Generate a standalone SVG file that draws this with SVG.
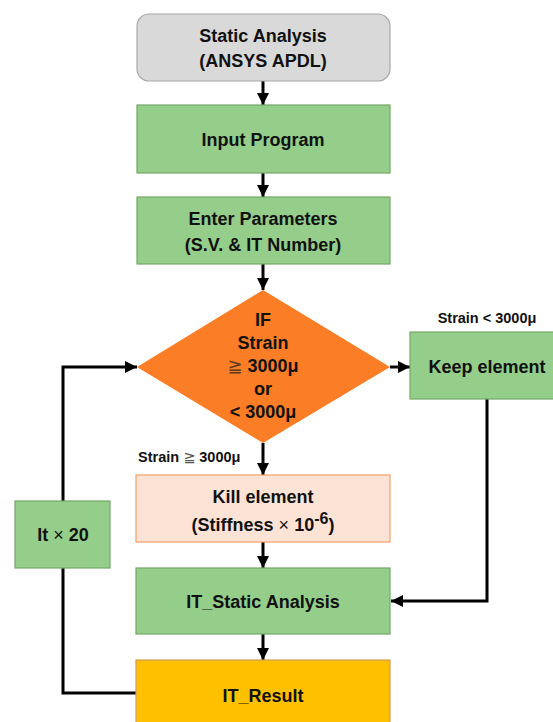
<svg xmlns="http://www.w3.org/2000/svg" width="553" height="722" viewBox="0 0 553 722">
  <style>
    text { font-family: "Liberation Sans", "DejaVu Sans", sans-serif; font-weight: bold; fill: #111; text-anchor: middle; }
    .lbl { font-size: 18px; }
    .small { font-size: 14.5px; }
    .green { fill: #94CE8A; stroke: #74A866; stroke-width: 1.2; }
    .wire { fill: none; stroke: #000; stroke-width: 3; }
  </style>
  <defs>
    <marker id="arrow" markerUnits="userSpaceOnUse" markerWidth="12" markerHeight="12" viewBox="0 0 12 12" refX="12" refY="6" orient="auto">
      <path d="M0,0 L12,6 L0,12 Z" fill="#000"/>
    </marker>
  </defs>

  <!-- connectors -->
  <g id="connectors">
    <path class="wire" d="M263,81 V105" marker-end="url(#arrow)"/>
    <path class="wire" d="M263,173 V197" marker-end="url(#arrow)"/>
    <path class="wire" d="M263,264 V290" marker-end="url(#arrow)"/>
    <path class="wire" d="M390,367 H410" marker-end="url(#arrow)"/>
    <path class="wire" d="M263,443 V475" marker-end="url(#arrow)"/>
    <path class="wire" d="M263,542 V568" marker-end="url(#arrow)"/>
    <path class="wire" d="M263,634 V660" marker-end="url(#arrow)"/>
    <path class="wire" d="M487,399 V601 H391" marker-end="url(#arrow)"/>
    <path class="wire" d="M136,693 H63 V367 H137" marker-end="url(#arrow)"/>
  </g>

  <g id="static-analysis">
    <rect x="137" y="14" width="253" height="67" rx="12" fill="#D9D9D9" stroke="#A8A8A8" stroke-width="1.2"/>
    <text class="lbl" x="263" y="42">Static Analysis</text>
    <text class="lbl" x="263" y="67">(ANSYS APDL)</text>
  </g>

  <g id="input-program">
    <rect class="green" x="137" y="105" width="253" height="68"/>
    <text class="lbl" x="263" y="146">Input Program</text>
  </g>

  <g id="enter-parameters">
    <rect class="green" x="137" y="197" width="253" height="67"/>
    <text class="lbl" x="263" y="225">Enter Parameters</text>
    <text class="lbl" x="263" y="251">(S.V. &amp; IT Number)</text>
  </g>

  <g id="decision">
    <polygon points="263,290 390,367 263,443 137,367" fill="#FB7D26"/>
    <text class="lbl" x="263" y="326">IF</text>
    <text class="lbl" x="263" y="349">Strain</text>
    <text class="lbl" x="263" y="372"><tspan font-weight="normal" fill="#5a3a20">≧</tspan> 3000μ</text>
    <text class="lbl" x="263" y="395">or</text>
    <text class="lbl" x="263" y="418">&lt; 3000μ</text>
  </g>

  <g id="keep-element">
    <rect class="green" x="410" y="332" width="150" height="67"/>
    <text class="lbl" x="487" y="373">Keep element</text>
    <text class="small" x="487" y="323">Strain &lt; 3000μ</text>
  </g>

  <g id="kill-element">
    <text class="small" x="138" y="462" style="text-anchor:start">Strain <tspan font-weight="normal" fill="#555">≧</tspan> 3000μ</text>
    <rect x="136" y="475" width="254" height="67" fill="#FDE3D5" stroke="#F4A066" stroke-width="1.2"/>
    <text class="lbl" x="263" y="503">Kill element</text>
    <text class="lbl" x="263" y="531">(Stiffness <tspan font-weight="normal">×</tspan> 10<tspan dy="-7" font-size="16">-6</tspan><tspan dy="7">)</tspan></text>
  </g>

  <g id="iteration">
    <rect class="green" x="15" y="501" width="95" height="67"/>
    <text class="lbl" x="63" y="541">It <tspan font-weight="normal">×</tspan> 20</text>
  </g>

  <g id="it-static-analysis">
    <rect class="green" x="136" y="568" width="254" height="66"/>
    <text class="lbl" x="263" y="608">IT_Static Analysis</text>
  </g>

  <g id="it-result">
    <rect x="136" y="660" width="254" height="70" fill="#FFC000" stroke="#D39B55" stroke-width="1.2"/>
    <text class="lbl" x="263" y="702">IT_Result</text>
  </g>
</svg>
